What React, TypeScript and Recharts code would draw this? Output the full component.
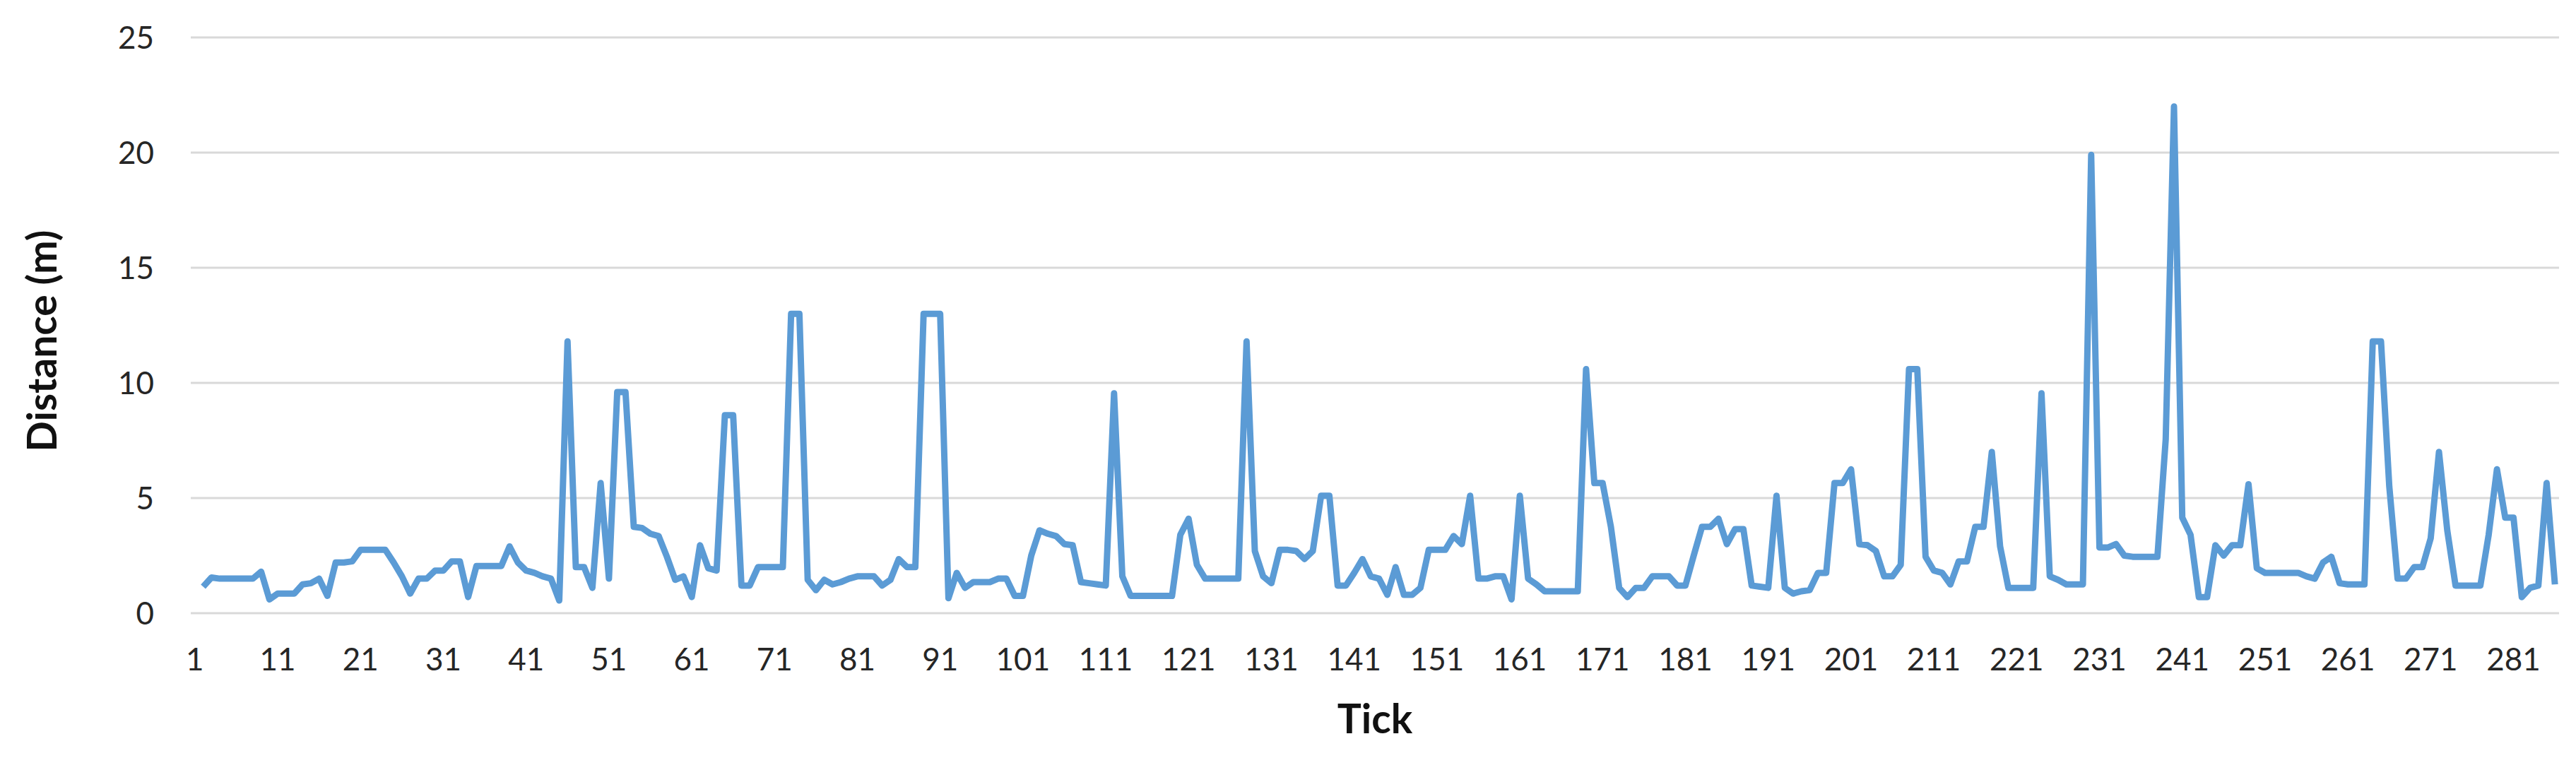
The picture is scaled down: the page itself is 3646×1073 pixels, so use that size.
import React from 'react';
import { LineChart, Line, XAxis, YAxis, CartesianGrid, Label } from 'recharts';

// Distance (m) per tick, ticks 1..286 (tick 1 has no value)
const distances: (number | null)[] = [
  null, 1.15, 1.55, 1.5, 1.5, 1.5, 1.5, 1.5, 1.8, 0.6,
  0.85, 0.85, 0.85, 1.25, 1.3, 1.5, 0.75, 2.2, 2.2, 2.25,
  2.75, 2.75, 2.75, 2.75, 2.2, 1.6, 0.85, 1.5, 1.5, 1.85,
  1.85, 2.25, 2.25, 0.7, 2.05, 2.05, 2.05, 2.05, 2.9, 2.2,
  1.85, 1.75, 1.6, 1.5, 0.55, 11.8, 2.0, 2.0, 1.1, 5.65,
  1.5, 9.6, 9.6, 3.75, 3.7, 3.45, 3.35, 2.45, 1.45, 1.6,
  0.7, 2.95, 1.95, 1.85, 8.6, 8.6, 1.2, 1.2, 2.0, 2.0,
  2.0, 2.0, 13.0, 13.0, 1.45, 1.0, 1.45, 1.25, 1.35, 1.5,
  1.6, 1.6, 1.6, 1.2, 1.45, 2.35, 2.0, 2.0, 13.0, 13.0,
  13.0, 0.65, 1.75, 1.1, 1.35, 1.35, 1.35, 1.5, 1.5, 0.75,
  0.75, 2.5, 3.6, 3.45, 3.35, 3.0, 2.95, 1.35, 1.3, 1.25,
  1.2, 9.55, 1.6, 0.75, 0.75, 0.75, 0.75, 0.75, 0.75, 3.4,
  4.1, 2.1, 1.5, 1.5, 1.5, 1.5, 1.5, 11.8, 2.7, 1.6,
  1.3, 2.75, 2.75, 2.7, 2.35, 2.7, 5.1, 5.1, 1.2, 1.2,
  1.75, 2.35, 1.6, 1.5, 0.8, 2.0, 0.8, 0.8, 1.1, 2.75,
  2.75, 2.75, 3.35, 3.0, 5.1, 1.5, 1.5, 1.6, 1.6, 0.6,
  5.1, 1.5, 1.25, 0.95, 0.95, 0.95, 0.95, 0.95, 10.6, 5.65,
  5.65, 3.75, 1.1, 0.7, 1.1, 1.1, 1.6, 1.6, 1.6, 1.2,
  1.2, 2.5, 3.75, 3.75, 4.1, 3.0, 3.65, 3.65, 1.2, 1.15,
  1.1, 5.1, 1.1, 0.85, 0.95, 1.0, 1.75, 1.75, 5.65, 5.65,
  6.25, 3.0, 2.95, 2.7, 1.6, 1.6, 2.1, 10.6, 10.6, 2.45,
  1.85, 1.75, 1.25, 2.25, 2.25, 3.75, 3.75, 7.0, 2.9, 1.1,
  1.1, 1.1, 1.1, 9.55, 1.6, 1.45, 1.25, 1.25, 1.25, 19.9,
  2.85, 2.85, 3.0, 2.5, 2.45, 2.45, 2.45, 2.45, 7.55, 22.0,
  4.15, 3.4, 0.7, 0.7, 2.95, 2.5, 2.95, 2.95, 5.6, 1.95,
  1.75, 1.75, 1.75, 1.75, 1.75, 1.6, 1.5, 2.2, 2.45, 1.3,
  1.25, 1.25, 1.25, 11.8, 11.8, 5.5, 1.5, 1.5, 2.0, 2.0,
  3.25, 7.0, 3.6, 1.2, 1.2, 1.2, 1.2, 3.4, 6.25, 4.15,
  4.15, 0.7, 1.1, 1.2, 5.65, 1.25,
];

const xTickLabels = [1, 11, 21, 31, 41, 51, 61, 71, 81, 91, 101, 111, 121, 131, 141,
  151, 161, 171, 181, 191, 201, 211, 221, 231, 241, 251, 261, 271, 281];
const yTickLabels = [0, 5, 10, 15, 20, 25];

const data = distances.map((d, i) => ({ tick: i + 1, distance: d }));

const FONT = 'Lato, "Liberation Sans", Arial, sans-serif';

const YTitle = (props: any) => {
  const vb = props.viewBox || { x: 0, y: 53, width: 270, height: 815 };
  const cx = 58;
  const cy = vb.y + vb.height / 2 + 22;
  return (
    <text
      x={cx}
      y={cy}
      transform={`rotate(-90 ${cx} ${cy})`}
      textAnchor="middle"
      dominantBaseline="central"
      style={{ fontFamily: FONT, fontWeight: 700, fontSize: 57, fill: '#111111' }}
    >
      Distance (m)
    </text>
  );
};

const XTitle = (props: any) => {
  const vb = props.viewBox || { x: 270, y: 868, width: 3352, height: 205 };
  const cx = vb.x + vb.width / 2;
  const cy = 1016;
  return (
    <text
      x={cx}
      y={cy}
      textAnchor="middle"
      dominantBaseline="central"
      style={{ fontFamily: FONT, fontWeight: 700, fontSize: 57, fill: '#111111' }}
    >
      Tick
    </text>
  );
};

export default function App() {
  return (
    <div style={{ position: 'absolute', left: 0, top: 0, width: 3646, height: 1073, background: '#ffffff' }}>
      <LineChart
        width={3646}
        height={1073}
        data={data}
        margin={{ top: 53, right: 24, left: 0, bottom: 0 }}
      >
        <CartesianGrid vertical={false} stroke="#d9d9d9" strokeWidth={3} />
        <XAxis
          dataKey="tick"
          type="number"
          domain={[0.5, 286.5]}
          allowDataOverflow
          ticks={xTickLabels}
          interval={0}
          height={205}
          axisLine={false}
          tickLine={false}
          tickSize={0}
          tickMargin={50}
          tick={{ fontFamily: FONT, fontSize: 44, fill: '#262626' }}
        >
          <Label content={XTitle} />
        </XAxis>
        <YAxis
          type="number"
          domain={[0, 25]}
          ticks={yTickLabels}
          interval={0}
          width={270}
          axisLine={false}
          tickLine={false}
          tickSize={0}
          tickMargin={52}
          tick={{ fontFamily: FONT, fontSize: 44, fill: '#262626' }}
        >
          <Label content={YTitle} />
        </YAxis>
        <Line
          type="linear"
          dataKey="distance"
          stroke="#5B9BD5"
          strokeWidth={9}
          strokeLinejoin="round"
          dot={false}
          activeDot={false}
          isAnimationActive={false}
          connectNulls={false}
        />
      </LineChart>
    </div>
  );
}
